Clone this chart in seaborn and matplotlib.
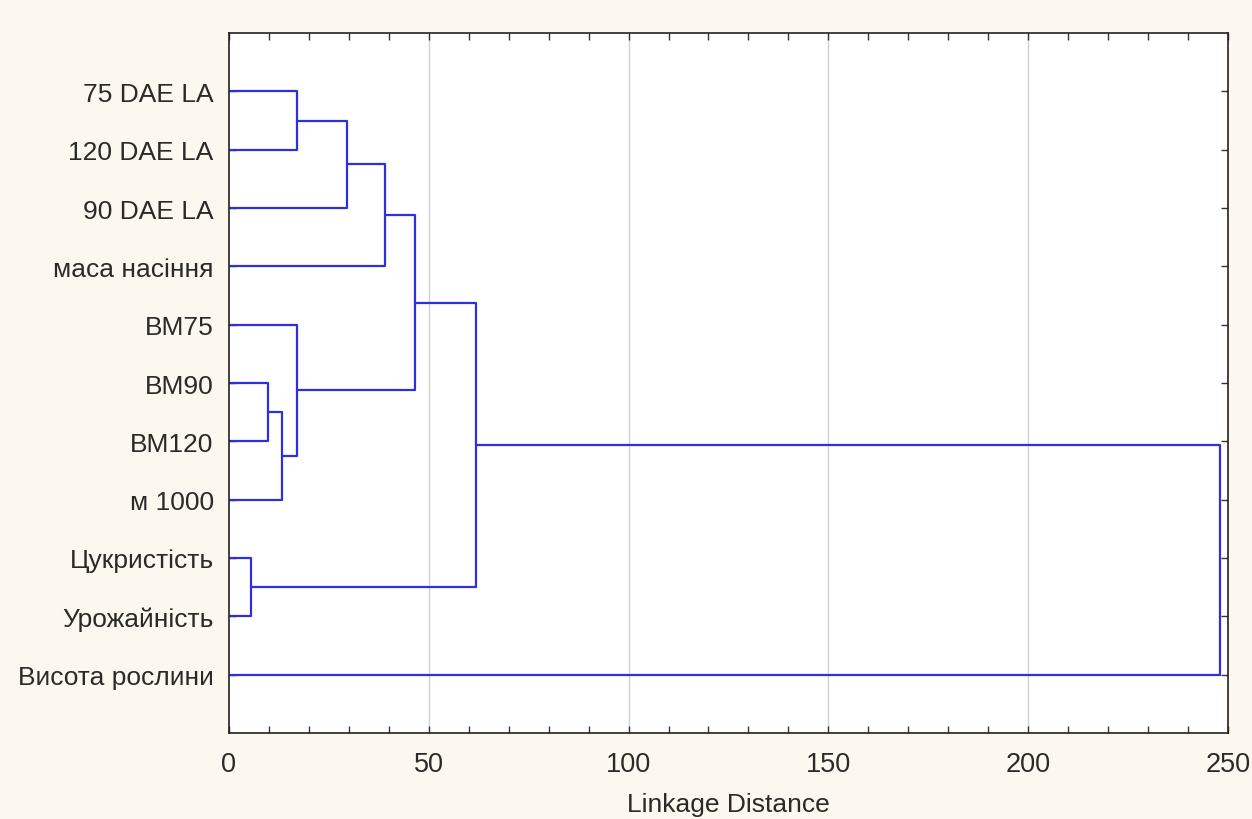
import numpy as np
import pandas as pd
import matplotlib
matplotlib.use("Agg")
import matplotlib.pyplot as plt
import seaborn as sns

# ---- data ----
leaf_labels = ["75 DAE LA", "120 DAE LA", "90 DAE LA", "маса насіння", "ВМ75",
               "ВМ90", "ВМ120", "м 1000", "Цукристість", "Урожайність", "Висота рослини"]
# merges: (child_a, child_b, linkage distance); leaves 0..10, clusters numbered from 11
merge_a = [0, 11, 12, 5, 14, 4, 13, 8, 17, 19]
merge_b = [1, 2, 3, 6, 7, 15, 16, 9, 18, 10]
merge_h = [17.0, 29.6, 39.0, 9.8, 13.2, 17.1, 46.5, 5.5, 61.8, 248.0]
x_ticks = [0, 50, 100, 150, 200, 250]

sns.set_theme(style="white")
plt.rcParams['font.family'] = ['Liberation Sans', 'DejaVu Sans']

n = len(leaf_labels)
pos = {i: (0.0, float(i + 1)) for i in range(n)}
rows = []
for k, (a, b, h) in enumerate(zip(merge_a, merge_b, merge_h)):
    xa, ya = pos[a]
    xb, yb = pos[b]
    seg = [(xa, ya), (h, ya), (h, yb), (xb, yb)]
    for j, (x, y) in enumerate(seg):
        rows.append({"seg": k, "order": j, "x": x, "y": y})
    pos[n + k] = (h, (ya + yb) / 2)
df = pd.DataFrame(rows)

fig = plt.figure(figsize=(12.52, 8.2), dpi=100, facecolor="#fdf8ef")
ax = fig.add_axes([0.1829, 0.1049, 0.9808 - 0.1829, 0.9585 - 0.1049])
ax.set_facecolor("white")

for xv in x_ticks[1:-1]:
    ax.axvline(xv, color="#cfcfcf", lw=0.9, zorder=0)

sns.lineplot(data=df, x="x", y="y", units="seg", estimator=None, sort=False,
             color="#2f2fe0", lw=1.6, ax=ax, legend=False)

ax.set_xlim(0, 250)
ax.set_ylim(n + 1, 0)
ax.set_xticks(x_ticks)
ax.set_xticks(np.arange(0, 251, 10), minor=True)
ax.set_yticks(np.arange(1, n + 1))
ax.set_yticklabels(leaf_labels)
ax.tick_params(axis="both", which="both", direction="in", length=5, width=1,
               color="#333333", top=True, right=True, bottom=True, left=True)
ax.tick_params(axis="x", which="major", labelsize=19.5, pad=13, labelcolor="#2a2a2a")
ax.tick_params(axis="y", which="major", labelsize=19, pad=11, labelcolor="#2a2a2a")
ax.set_xlabel("Linkage Distance", fontsize=19, color="#2a2a2a", labelpad=11)
ax.set_ylabel("")
for s in ax.spines.values():
    s.set_visible(True)
    s.set_color("#222222")
    s.set_linewidth(1.2)

fig.savefig("out.png", dpi=100, facecolor=fig.get_facecolor())
